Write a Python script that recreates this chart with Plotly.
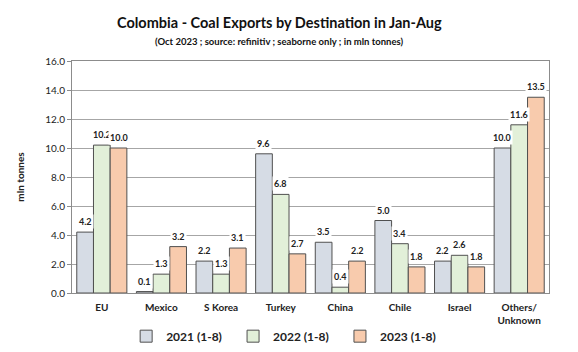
import plotly.graph_objects as go

categories = ["EU", "Mexico", "S Korea", "Turkey", "China", "Chile", "Israel", "Others/<br>Unknown"]
series_names = ["2021 (1-8)", "2022 (1-8)", "2023 (1-8)"]
v2021 = [4.2, 0.1, 2.2, 9.6, 3.5, 5.0, 2.2, 10.0]
v2022 = [10.2, 1.3, 1.3, 6.8, 0.4, 3.4, 2.6, 11.6]
v2023 = [10.0, 3.2, 3.1, 2.7, 2.2, 1.8, 1.8, 13.5]
y_ticks = [0, 2, 4, 6, 8, 10, 12, 14, 16]

colors = ["#D6DCE5", "#E2F0D9", "#F8CBAD"]
FONT = "Lato"

fig = go.Figure()
all_vals = [v2021, v2022, v2023]
for name, vals, c in zip(series_names, all_vals, colors):
    fig.add_trace(go.Bar(
        x=categories, y=vals, name="<b>" + name + "</b>  ",
        marker=dict(color=c, line=dict(color="#505050", width=1)),
    ))

bar_px = 16.7
annotations = []
for i, vals in enumerate(all_vals):
    shift = (i - 1) * bar_px
    for cat, v in zip(categories, vals):
        annotations.append(dict(
            x=cat, y=v, xref="x", yref="y", text="<b>%.1f</b>" % v,
            showarrow=False, xshift=shift, yshift=3, yanchor="bottom",
            bgcolor="white", borderpad=1,
            font=dict(family=FONT, size=9, color="#222222"),
        ))

annotations.append(dict(
    x=0.435, y=1.168, xref="paper", yref="paper", xanchor="center", yanchor="middle",
    text="<b>Colombia - Coal Exports by Destination in Jan-Aug</b>", showarrow=False,
    font=dict(family=FONT, size=14.5, color="#111111")))
annotations.append(dict(
    x=0.435, y=1.082, xref="paper", yref="paper", xanchor="center", yanchor="middle",
    text="<b>(Oct 2023 ; source: refinitiv ; seaborne only ; in mln tonnes)</b>", showarrow=False,
    font=dict(family=FONT, size=9.5, color="#111111")))

fig.update_layout(
    width=578, height=352,
    margin=dict(l=72, r=29, t=61, b=59, autoexpand=False),
    paper_bgcolor="white", plot_bgcolor="white",
    barmode="group", bargap=0.16, bargroupgap=0,
    font=dict(family=FONT, color="#222222"),
    xaxis=dict(
        showline=True, linecolor="#8C8C8C", mirror=True,
        tickfont=dict(family=FONT, size=10, color="#222222"),
        ticks="", tickprefix="<b>", ticksuffix="</b>", ticklabelstandoff=5,
    ),
    yaxis=dict(
        range=[0, 16], tickvals=y_ticks, tickformat=".1f",
        showgrid=True, gridcolor="#A6A6A6", gridwidth=1,
        showline=True, linecolor="#8C8C8C", mirror=True,
        ticks="outside", ticklen=4, tickcolor="#8C8C8C",
        tickprefix="<b>", ticksuffix="</b>",
        tickfont=dict(family=FONT, size=10, color="#222222"),
        title=dict(text="<b>mln tonnes</b>", font=dict(family=FONT, size=10, color="#222222"), standoff=18),
    ),
    legend=dict(
        orientation="h", x=0.45, xanchor="center", yref="container", y=0.045, yanchor="middle",
        font=dict(family=FONT, size=12, color="#222222"),
        itemwidth=30, traceorder="normal",
    ),
    annotations=annotations,
)

fig.write_html("out.html")
